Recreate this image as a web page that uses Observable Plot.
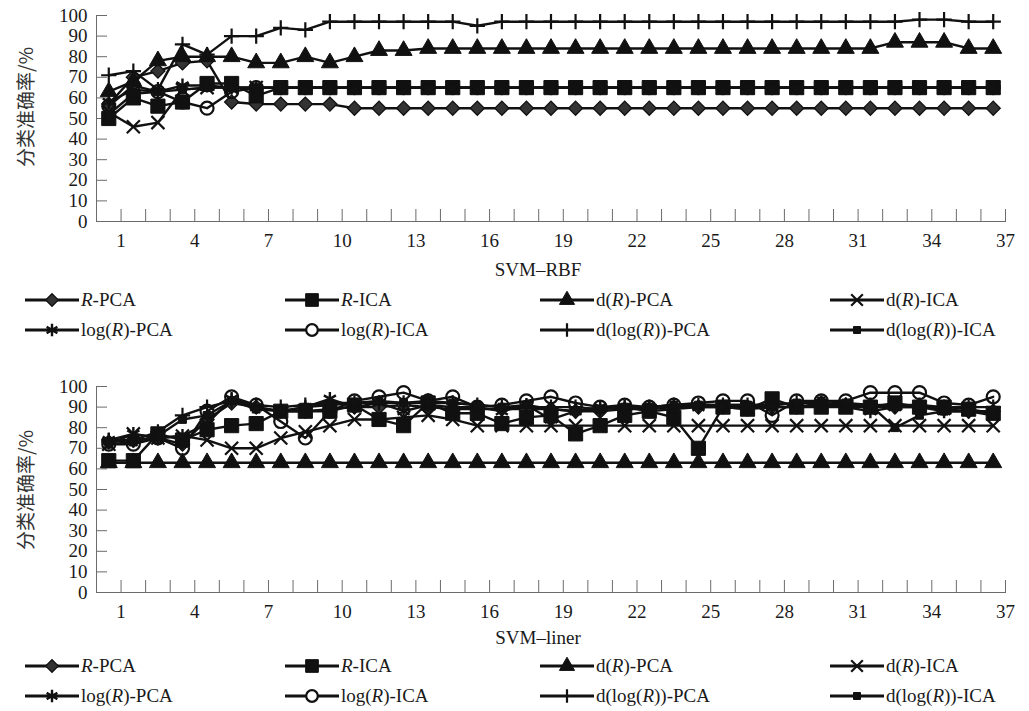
<!DOCTYPE html>
<html>
<head>
<meta charset="utf-8">
<script src="https://cdn.jsdelivr.net/npm/d3@7"></script>
<script src="https://cdn.jsdelivr.net/npm/@observablehq/plot@0.6"></script>
<style>
  html, body { margin: 0; padding: 0; background: #fff; }
  #root { position: relative; width: 1029px; height: 711px; overflow: hidden; font-family: "Liberation Serif", "Times New Roman", serif; color: #1a1a1a; }
  .panel { position: absolute; left: 0; }
  .ylab { position: absolute; font-family: "Noto Sans CJK SC", sans-serif; font-size: 19px; color: #333; white-space: nowrap; transform: translate(-50%, -50%) rotate(-90deg); }
  .xlab { position: absolute; font-size: 19px; white-space: nowrap; transform: translate(-50%, -50%); }
  .leg { position: absolute; display: flex; align-items: center; height: 22px; font-size: 19px; white-space: nowrap; }
  .leg span { margin-left: 2px; }
</style>
</head>
<body>
<div id="root"></div>
<script>
// ---------- data ----------
const dims = [1,2,3,4,5,6,7,8,9,10,11,12,13,14,15,16,17,18,19,20,21,22,23,24,25,26,27,28,29,30,31,32,33,34,35,36,37];
const yTicks = [0,10,20,30,40,50,60,70,80,90,100];
const xTickLabels = [1,4,7,10,13,16,19,22,25,28,31,34,37];
const seriesLabels = ["<i>R</i>-PCA", "<i>R</i>-ICA", "d(<i>R</i>)-PCA", "d(<i>R</i>)-ICA",
                      "log(<i>R</i>)-PCA", "log(<i>R</i>)-ICA", "d(log(<i>R</i>))-PCA", "d(log(<i>R</i>))-ICA"];
const panelTitles = ["SVM\u2013RBF", "SVM\u2013liner"];
const yTitle = "分类准确率/%";

// SVM-RBF
const rbf_RPCA     = [57,70,73,77,78,58,57,57,57,57,55,55,55,55,55,55,55,55,55,55,55,55,55,55,55,55,55,55,55,55,55,55,55,55,55,55,55];
const rbf_RICA     = [50,60,56,58,67,67,61,65,65,65,65,65,65,65,65,65,65,65,65,65,65,65,65,65,65,65,65,65,65,65,65,65,65,65,65,65,65];
const rbf_dRPCA    = [63,68,78,80,80,80,77,77,80,77,80,83,83,84,84,84,84,84,84,84,84,84,84,84,84,84,84,84,84,84,84,84,87,87,87,84,84];
const rbf_dRICA    = [53,46,48,64,65,65,65,65,65,65,65,65,65,65,65,65,65,65,65,65,65,65,65,65,65,65,65,65,65,65,65,65,65,65,65,65,65];
const rbf_logPCA   = [58,64,63,66,66,65,65,65,65,65,65,65,65,65,65,65,65,65,65,65,65,65,65,65,65,65,65,65,65,65,65,65,65,65,65,65,65];
const rbf_logICA   = [56,66,63,58,55,63,65,65,65,65,65,65,65,65,65,65,65,65,65,65,65,65,65,65,65,65,65,65,65,65,65,65,65,65,65,65,65];
const rbf_dlogPCA  = [71,73,64,86,81,90,90,94,93,97,97,97,97,97,97,95,97,97,97,97,97,97,97,97,97,97,97,97,97,97,97,97,97,98,98,97,97];
const rbf_dlogICA  = [52,62,63,64,65,65,65,65,65,65,65,65,65,65,65,65,65,65,65,65,65,65,65,65,65,65,65,65,65,65,65,65,65,65,65,65,65];

// SVM-liner
const lin_RPCA     = [73,74,75,72,84,92,90,88,88,89,90,90,91,90,89,89,89,89,89,88,88,89,89,90,90,90,90,90,90,91,91,90,90,90,89,88,88];
const lin_RICA     = [64,64,77,74,79,81,82,88,88,88,91,84,81,92,87,87,82,85,86,77,81,86,88,85,70,90,89,94,90,90,90,90,92,90,90,89,87];
const lin_dRPCA    = [63,63,63,63,63,63,63,63,63,63,63,63,63,63,63,63,63,63,63,63,63,63,63,63,63,63,63,63,63,63,63,63,63,63,63,63,63];
const lin_dRICA    = [72,77,75,76,74,70,70,75,78,81,84,84,85,86,84,81,81,81,81,81,81,81,81,81,81,81,81,81,81,81,81,81,81,81,81,81,81];
const lin_logPCA   = [74,77,75,76,82,94,90,88,90,94,90,92,88,91,90,90,88,91,84,88,90,90,88,89,90,90,89,90,90,92,90,88,90,90,88,88,88];
const lin_logICA   = [72,72,75,70,88,95,91,83,75,88,93,95,97,93,95,90,91,93,95,92,90,91,90,91,92,93,93,86,93,93,93,97,97,97,92,91,95];
const lin_dlogPCA  = [74,74,78,86,90,93,91,90,91,92,92,92,92,93,92,91,90,90,90,90,89,90,90,91,91,91,91,91,92,92,91,91,91,91,90,90,90];
const lin_dlogICA  = [72,73,76,84,86,93,89,88,90,91,92,93,92,92,92,91,90,91,89,88,89,90,90,91,91,91,91,91,92,93,92,91,80,86,88,88,86];

const rbfSeries = [rbf_RPCA, rbf_RICA, rbf_dRPCA, rbf_dRICA, rbf_logPCA, rbf_logICA, rbf_dlogPCA, rbf_dlogICA];
const linSeries = [lin_RPCA, lin_RICA, lin_dRPCA, lin_dRICA, lin_logPCA, lin_logICA, lin_dlogPCA, lin_dlogICA];

// ---------- styles ----------
const INK = "#111";
const markerStyles = [
  {symbol: "square",   rotate: 45, r: 5.6, fill: "#333", stroke: INK, strokeWidth: 1.3, legendFill: "#333"},
  {symbol: "square",   r: 8.0, fill: INK, stroke: INK, strokeWidth: 1, legendFill: INK},
  {symbol: "triangle", r: 6.3, fill: INK, stroke: INK, strokeWidth: 1, legendFill: INK},
  {symbol: "times",    r: 6.0, fill: "none", stroke: INK, strokeWidth: 2.2, legendFill: "none"},
  {symbol: "asterisk", r: 6.6, fill: "none", stroke: INK, strokeWidth: 2.4, legendFill: "none"},
  {symbol: "circle",   r: 6.5, fill: "none", stroke: INK, strokeWidth: 2.2, legendFill: "white"},
  {symbol: "plus",     r: 5.0, fill: "none", stroke: INK, strokeWidth: 2.2, legendFill: "none"},
  {symbol: "square",   r: 4.4, fill: INK, stroke: INK, strokeWidth: 1, legendFill: INK}
];
const d3Symbols = {square: d3.symbolSquare, triangle: d3.symbolTriangle, times: d3.symbolTimes,
                   asterisk: d3.symbolAsterisk, circle: d3.symbolCircle, plus: d3.symbolPlus};

const root = d3.select("#root");
const AXIS = "#6b6b6b";

function drawPanel(series, top, title, ylabY, xlabY, legY) {
  const xTickMarks = dims.map(d => d + 0.5);
  const marks = [
    Plot.axisY({ticks: yTicks, tickSize: -11, tickPadding: 20, label: null, stroke: AXIS, fill: "#1a1a1a", fontSize: 19}),
    Plot.axisX({ticks: xTickMarks, tickSize: -12, tickFormat: () => "", label: null, stroke: AXIS}),
    Plot.axisX({ticks: xTickLabels.map(v => v + 0.5), tickSize: 0, tickPadding: 12,
                tickFormat: v => String(v - 0.5), label: null, fill: "#1a1a1a", fontSize: 19}),
    Plot.frame({anchor: "left", stroke: AXIS}),
    Plot.frame({anchor: "bottom", stroke: AXIS})
  ];
  series.forEach((vals, k) => {
    const s = markerStyles[k];
    marks.push(Plot.line(vals, {x: (d, i) => dims[i], y: d => d, stroke: INK, strokeWidth: 2.4}));
    const dotOpts = {x: (d, i) => dims[i], y: d => d, symbol: s.symbol, r: s.r, fill: s.fill, stroke: s.stroke, strokeWidth: s.strokeWidth};
    if (s.rotate) dotOpts.rotate = s.rotate;
    marks.push(Plot.dot(vals, dotOpts));
  });
  const chart = Plot.plot({
    width: 1029, height: 260,
    marginLeft: 96, marginRight: 24, marginTop: 15, marginBottom: 39,
    style: {fontFamily: "Liberation Serif, serif", fontSize: "19px", color: "#1a1a1a", background: "transparent", overflow: "visible"},
    x: {type: "linear", domain: [0.5, 37.5]},
    y: {domain: [0, 100]},
    marks
  });
  const div = root.append("div").attr("class", "panel").style("top", top + "px");
  div.node().appendChild(chart);

  root.append("div").attr("class", "ylab").style("left", "24px").style("top", ylabY + "px").text(yTitle);
  root.append("div").attr("class", "xlab").style("left", "538px").style("top", xlabY + "px").text(title);

  const legX = [25, 285, 540, 830];
  for (let r = 0; r < 2; r++) {
    for (let c = 0; c < 4; c++) {
      const k = r * 4 + c;
      const s = markerStyles[k];
      const item = root.append("div").attr("class", "leg")
        .style("left", legX[c] + "px").style("top", (legY[r] - 11) + "px");
      const svg = item.append("svg").attr("width", 54).attr("height", 22);
      svg.append("line").attr("x1", 0).attr("x2", 54).attr("y1", 11).attr("y2", 11)
        .attr("stroke", INK).attr("stroke-width", 3.2);
      svg.append("path")
        .attr("transform", `translate(27,11)${s.rotate ? " rotate(" + s.rotate + ")" : ""}`)
        .attr("d", d3.symbol(d3Symbols[s.symbol], Math.PI * s.r * s.r * 0.8)())
        .attr("fill", s.legendFill).attr("stroke", INK).attr("stroke-width", s.strokeWidth);
      item.append("span").html(seriesLabels[k]);
    }
  }
}

drawPanel(rbfSeries, 0, panelTitles[0], 107, 270, [300, 330]);
drawPanel(linSeries, 371, panelTitles[1], 490, 638, [666, 696]);
</script>
</body>
</html>
